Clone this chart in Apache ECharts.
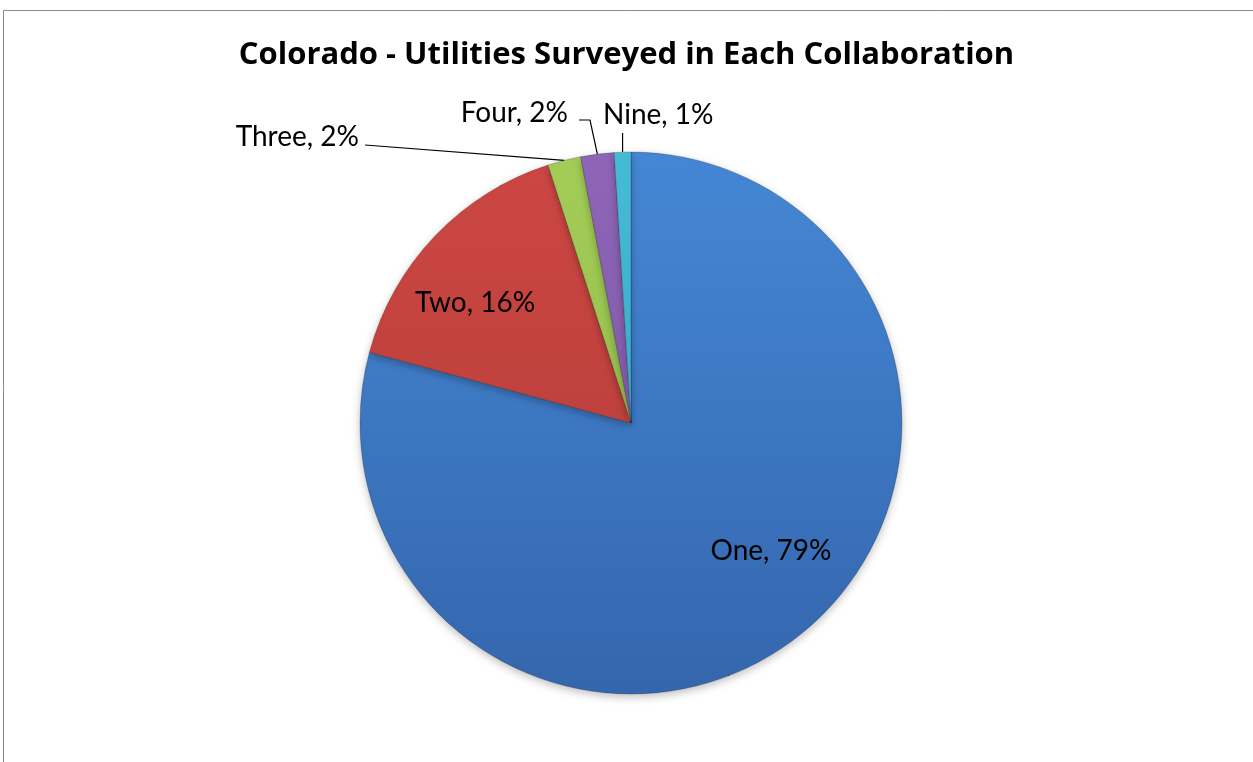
<!DOCTYPE html>
<html>
<head>
<meta charset="utf-8">
<script src="https://cdn.jsdelivr.net/npm/echarts@6/dist/echarts.min.js"></script>
<style>
    html, body { margin: 0; padding: 0; background: #fff; }
    #chart { width: 1253px; height: 762px; }
</style>
</head>
<body>
<div id="chart"></div>
<script>
// data
var titleText = "Colorado - Utilities Surveyed in Each Collaboration";
var categories = ["One", "Two", "Three", "Four", "Nine"];
var counts = [80, 16, 2, 2, 1];

// colours: top / bottom of a soft vertical shade
var topColors = ["#4587d5", "#cd4743", "#a3cd57", "#8e65b8", "#46bbd8"];
var bottomColors = ["#3466ad", "#b13a37", "#8cb447", "#7853a0", "#33a0bd"];

// pie geometry
var cx = 631, cy = 423, R = 271;

// where each label sits (Excel places them by hand)
var labelSpots = {
    "One":   { x: 771, y: 551, align: "center", line: null },
    "Two":   { x: 475, y: 303, align: "center", line: null },
    "Three": { x: 359, y: 137, align: "right", line: [[365, 145]] },
    "Four":  { x: 568, y: 113, align: "right", line: [[590, 120], [579, 120]] },
    "Nine":  { x: 603, y: 115, align: "left", line: "up" }
};

var myChart = echarts.init(document.getElementById('chart'));

var seriesData = [];
for (var i = 0; i < categories.length; i++) {
    var item = {
        name: categories[i],
        value: counts[i],
        itemStyle: {
            color: new echarts.graphic.LinearGradient(cx, cy - R, cx, cy + R, [
                { offset: 0, color: topColors[i] },
                { offset: 1, color: bottomColors[i] }
            ], true)
        }
    };
    if (i < 2) {
        item.label = { position: 'inside' };
    }
    seriesData.push(item);
}

var total = 0;
counts.forEach(function (v) { total += v; });

var option = {
    backgroundColor: '#ffffff',
    animation: false,
    title: {
        text: titleText,
        left: 'center',
        top: 35,
        textStyle: {
            fontFamily: 'Open Sans',
            fontWeight: 'bold',
            fontSize: 31,
            color: '#000'
        }
    },
    graphic: [{
        type: 'rect',
        shape: { x: 3.5, y: 10.5, width: 1300, height: 800 },
        style: { fill: 'none', stroke: '#8a8a8a', lineWidth: 1 },
        silent: true
    }],
    series: [{
        type: 'pie',
        center: [cx, cy],
        radius: [0, R],
        startAngle: 90,
        clockwise: true,
        avoidLabelOverlap: false,
        data: seriesData,
        itemStyle: {
            borderColor: 'rgba(0,0,0,0.35)',
            borderWidth: 0.6,
            shadowBlur: 8,
            shadowColor: 'rgba(0,0,0,0.25)',
            shadowOffsetY: 3
        },
        label: {
            show: true,
            position: 'outside',
            fontFamily: 'Lato',
            fontSize: 28,
            color: '#000',
            formatter: function (p) {
                return p.name + ', ' + Math.round(p.value / total * 100) + '%';
            }
        },
        labelLine: {
            show: true,
            smooth: false,
            lineStyle: { color: '#000', width: 1.2 }
        },
        emphasis: { disabled: true },
        labelLayout: function (params) {
            var name = categories[params.dataIndex];
            var spot = labelSpots[name];
            var res = {
                x: spot.x,
                y: spot.y,
                align: spot.align,
                verticalAlign: 'middle'
            };
            if (spot.line && params.labelLinePoints) {
                var anchor = params.labelLinePoints[0];
                var pts = [anchor];
                if (spot.line === 'up') {
                    pts.push([anchor[0], 133]);
                } else {
                    spot.line.forEach(function (p) { pts.push(p); });
                }
                res.labelLinePoints = pts;
            }
            return res;
        }
    }]
};

myChart.setOption(option);
</script>
</body>
</html>
